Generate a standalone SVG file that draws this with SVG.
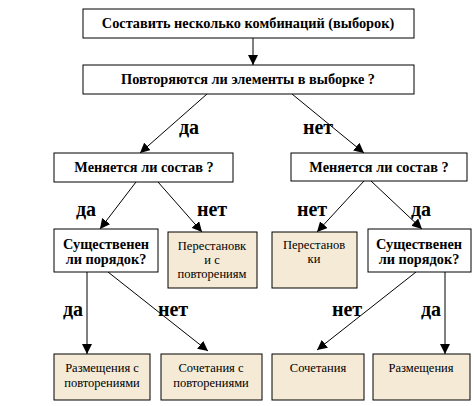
<svg xmlns="http://www.w3.org/2000/svg" width="474" height="406" viewBox="0 0 474 406">
<style>
.box{fill:#ffffff;stroke:#000;stroke-width:1}
.beige{fill:#f4ead6;stroke:#000;stroke-width:1}
text{text-anchor:middle;fill:#000}
.t{font-weight:bold;font-size:14.3px}
.s{font-size:12.5px}
.lbl{font-weight:bold;font-size:20px}
.c{stroke:#000;stroke-width:1;fill:none;marker-end:url(#arr)}
</style>
<defs>
<marker id="arr" viewBox="0 0 10 10" refX="10" refY="5" markerWidth="10" markerHeight="10" markerUnits="userSpaceOnUse" orient="auto">
<path d="M0,0 L10,5 L0,10 Z" fill="#000"/>
</marker>
</defs>
<rect width="474" height="406" fill="#fff"/>
<g id="connectors">
<line class="c" x1="253" y1="38" x2="253" y2="65"/>
<line class="c" x1="207" y1="94" x2="140" y2="153"/>
<line class="c" x1="292" y1="94" x2="364" y2="153"/>
<line class="c" x1="136" y1="182" x2="100" y2="229"/>
<line class="c" x1="158" y1="182" x2="202" y2="232"/>
<line class="c" x1="364" y1="181" x2="317" y2="232"/>
<line class="c" x1="371" y1="181" x2="422" y2="229"/>
<line class="c" x1="87" y1="272" x2="87" y2="354"/>
<line class="c" x1="108" y1="272" x2="208" y2="351"/>
<line class="c" x1="416" y1="272" x2="317" y2="350"/>
<line class="c" x1="445" y1="272" x2="445" y2="354"/>
</g>
<g font-family="Liberation Serif, Times New Roman, serif">
<g id="labels">
<text class="lbl" x="189" y="134">да</text>
<text class="lbl" x="318" y="134">нет</text>
<text class="lbl" x="86" y="216">да</text>
<text class="lbl" x="212" y="216">нет</text>
<text class="lbl" x="312" y="216">нет</text>
<text class="lbl" x="421" y="216">да</text>
<text class="lbl" x="73" y="316">да</text>
<text class="lbl" x="173" y="316">нет</text>
<text class="lbl" x="347" y="316">нет</text>
<text class="lbl" x="431" y="316">да</text>
</g>
<g id="n1"><rect class="box" x="83" y="9" width="331" height="29"/><text class="t" x="248" y="28">Составить несколько комбинаций (выборок)</text></g>
<g id="n2"><rect class="box" x="83" y="65" width="331" height="29"/><text class="t" x="248" y="84">Повторяются ли элементы в выборке ?</text></g>
<g id="n3"><rect class="box" x="54" y="153" width="179" height="29"/><text class="t" x="144" y="172">Меняется ли состав ?</text></g>
<g id="n4"><rect class="box" x="291" y="153" width="176" height="28"/><text class="t" x="379" y="172">Меняется ли состав ?</text></g>
<g id="n5"><rect class="box" x="54" y="229" width="104" height="43"/><text class="t" x="106" y="249">Существенен</text><text class="t" x="106" y="264">ли порядок?</text></g>
<g id="n6"><rect class="beige" x="168" y="232" width="89" height="56"/><text class="s" x="212" y="250">Перестановк</text><text class="s" x="212" y="264">и с</text><text class="s" x="212" y="278">повторениям</text></g>
<g id="n7"><rect class="beige" x="272" y="232" width="85" height="56"/><text class="s" x="314" y="249">Перестанов</text><text class="s" x="314" y="263">ки</text></g>
<g id="n8"><rect class="box" x="368" y="229" width="103" height="43"/><text class="t" x="419" y="249">Существенен</text><text class="t" x="419" y="264">ли порядок?</text></g>
<g id="n9"><rect class="beige" x="54" y="354" width="96" height="46"/><text class="s" x="102" y="372">Размещения с</text><text class="s" x="102" y="387">повторениями</text></g>
<g id="n10"><rect class="beige" x="161" y="354" width="101" height="46"/><text class="s" x="211" y="372">Сочетания с</text><text class="s" x="211" y="387">повторениями</text></g>
<g id="n11"><rect class="beige" x="272" y="354" width="92" height="46"/><text class="s" x="318" y="372">Сочетания</text></g>
<g id="n12"><rect class="beige" x="373" y="354" width="97" height="46"/><text class="s" x="421" y="372">Размещения</text></g>
</g>
</svg>
